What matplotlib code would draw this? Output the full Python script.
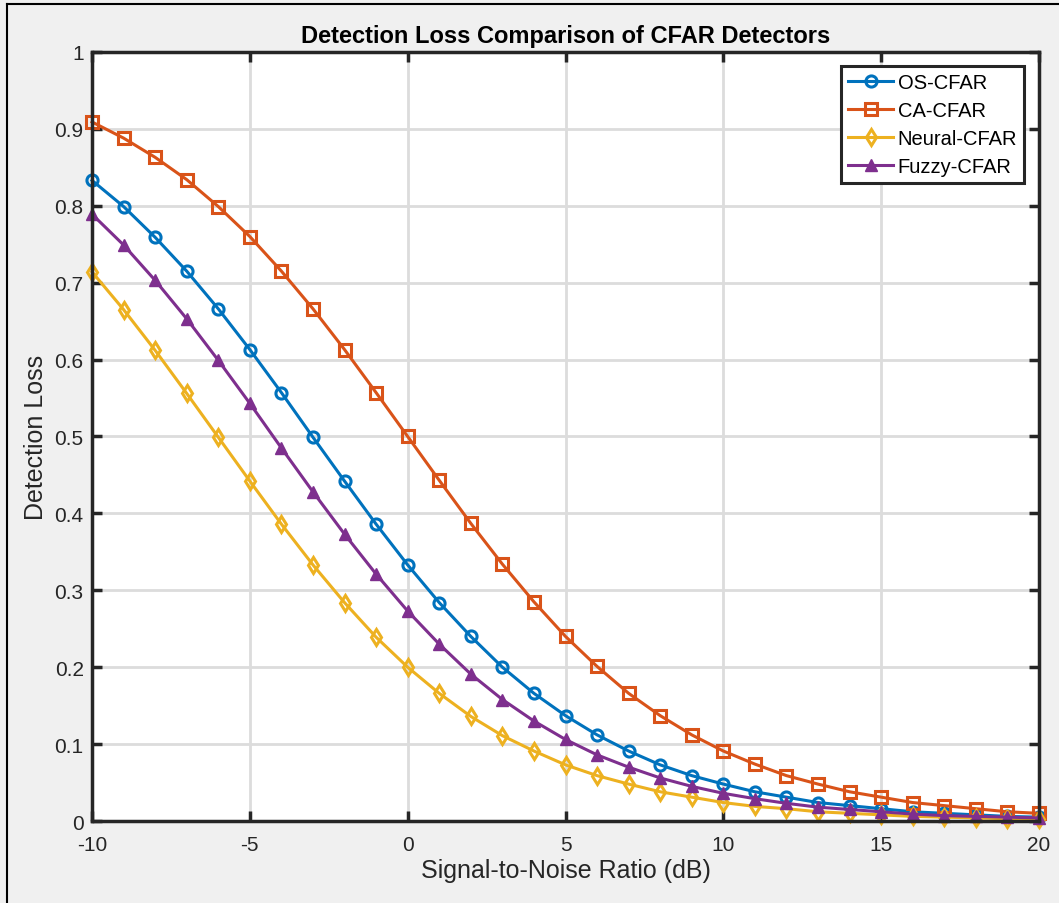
import matplotlib
matplotlib.use("Agg")
import matplotlib.pyplot as plt
from matplotlib.lines import Line2D

plt.rcParams['font.family'] = ['Liberation Sans', 'DejaVu Sans']

snr = list(range(-10, 21))
os_cfar = [0.833, 0.799, 0.759, 0.715, 0.666, 0.613, 0.557, 0.499, 0.442, 0.386,
           0.333, 0.284, 0.240, 0.200, 0.166, 0.137, 0.112, 0.091, 0.073, 0.059,
           0.048, 0.038, 0.031, 0.024, 0.020, 0.016, 0.012, 0.010, 0.008, 0.006, 0.005]
ca_cfar = [0.909, 0.888, 0.863, 0.834, 0.799, 0.760, 0.715, 0.666, 0.613, 0.557,
           0.500, 0.443, 0.387, 0.334, 0.285, 0.240, 0.201, 0.166, 0.137, 0.112,
           0.091, 0.074, 0.059, 0.048, 0.038, 0.031, 0.024, 0.020, 0.016, 0.012, 0.010]
neural_cfar = [0.714, 0.665, 0.612, 0.556, 0.499, 0.442, 0.386, 0.333, 0.284, 0.239,
               0.200, 0.166, 0.136, 0.111, 0.091, 0.073, 0.059, 0.048, 0.038, 0.031,
               0.024, 0.019, 0.016, 0.012, 0.010, 0.008, 0.006, 0.005, 0.004, 0.003, 0.002]
fuzzy_cfar = [0.789, 0.749, 0.703, 0.653, 0.599, 0.543, 0.485, 0.428, 0.373, 0.321,
              0.273, 0.230, 0.191, 0.158, 0.130, 0.106, 0.086, 0.070, 0.056, 0.045,
              0.036, 0.029, 0.023, 0.018, 0.015, 0.012, 0.009, 0.007, 0.006, 0.005, 0.004]
labels = ['OS-CFAR', 'CA-CFAR', 'Neural-CFAR', 'Fuzzy-CFAR']
colors = ['#0072BD', '#D95319', '#EDB120', '#7E2F8E']
xticks = [-10, -5, 0, 5, 10, 15, 20]
yticks = [0, 0.1, 0.2, 0.3, 0.4, 0.5, 0.6, 0.7, 0.8, 0.9, 1]
ytick_labels = ['0', '0.1', '0.2', '0.3', '0.4', '0.5', '0.6', '0.7', '0.8', '0.9', '1']

fig = plt.figure(figsize=(10.59, 9.04), dpi=100, facecolor='#f0f0f0')
# window border (left and top only visible)
fig.add_artist(Line2D([0.0062, 0.0062], [0, 0.9945], transform=fig.transFigure,
                      color='black', linewidth=1.5))
fig.add_artist(Line2D([0.0062, 1.0], [0.9945, 0.9945], transform=fig.transFigure,
                      color='black', linewidth=1.5))

ax = fig.add_axes([0.0869, 0.0907, 0.8942, 0.8507])
ax.set_facecolor('white')

series = [os_cfar, ca_cfar, neural_cfar, fuzzy_cfar]
markers = ['o', 's', 'd', '^']
for ys, lab, c, m in zip(series, labels, colors, markers):
    if m == '^':
        ax.plot(snr, ys, color=c, marker=m, markersize=8.5, linewidth=2.2,
                markerfacecolor=c, markeredgecolor=c, label=lab, zorder=3,
                clip_on=False)
    else:
        ax.plot(snr, ys, color=c, marker=m, markersize=8, linewidth=2.2,
                markerfacecolor='none', markeredgecolor=c, markeredgewidth=2.2,
                label=lab, zorder=3, clip_on=False)

ax.set_xlim(-10, 20)
ax.set_ylim(0, 1)
ax.set_xticks(xticks)
ax.set_xticklabels([str(t) for t in xticks])
ax.set_yticks(yticks)
ax.set_yticklabels(ytick_labels)
ax.grid(True, color='#dcdcdc', linewidth=2)
ax.set_axisbelow(True)
for s in ax.spines.values():
    s.set_color('#262626')
    s.set_linewidth(2.5)
    s.set_zorder(4)
ax.tick_params(direction='in', length=7, width=2.5, colors='#262626',
               labelsize=15, top=True, right=True)
ax.tick_params(axis='x', pad=10)
ax.tick_params(axis='y', pad=6)
for t in ax.get_xticklabels() + ax.get_yticklabels():
    t.set_color('#262626')

ax.set_title('Detection Loss Comparison of CFAR Detectors', fontsize=17,
             fontweight='bold', color='black', pad=7)
ax.set_xlabel('Signal-to-Noise Ratio (dB)', fontsize=18, color='#262626', labelpad=3)
ax.set_ylabel('Detection Loss', fontsize=18, color='#262626', labelpad=5)

leg = ax.legend(loc='upper right', bbox_to_anchor=(0.9845, 0.982), fontsize=14.5,
                frameon=True, fancybox=False, framealpha=1, edgecolor='#262626',
                borderpad=0.35, labelspacing=0.45, handlelength=2.2,
                handletextpad=0.25, borderaxespad=0.0)
leg.get_frame().set_linewidth(2.2)
leg.set_zorder(5)

fig.savefig('out.png', dpi=100, facecolor=fig.get_facecolor())
